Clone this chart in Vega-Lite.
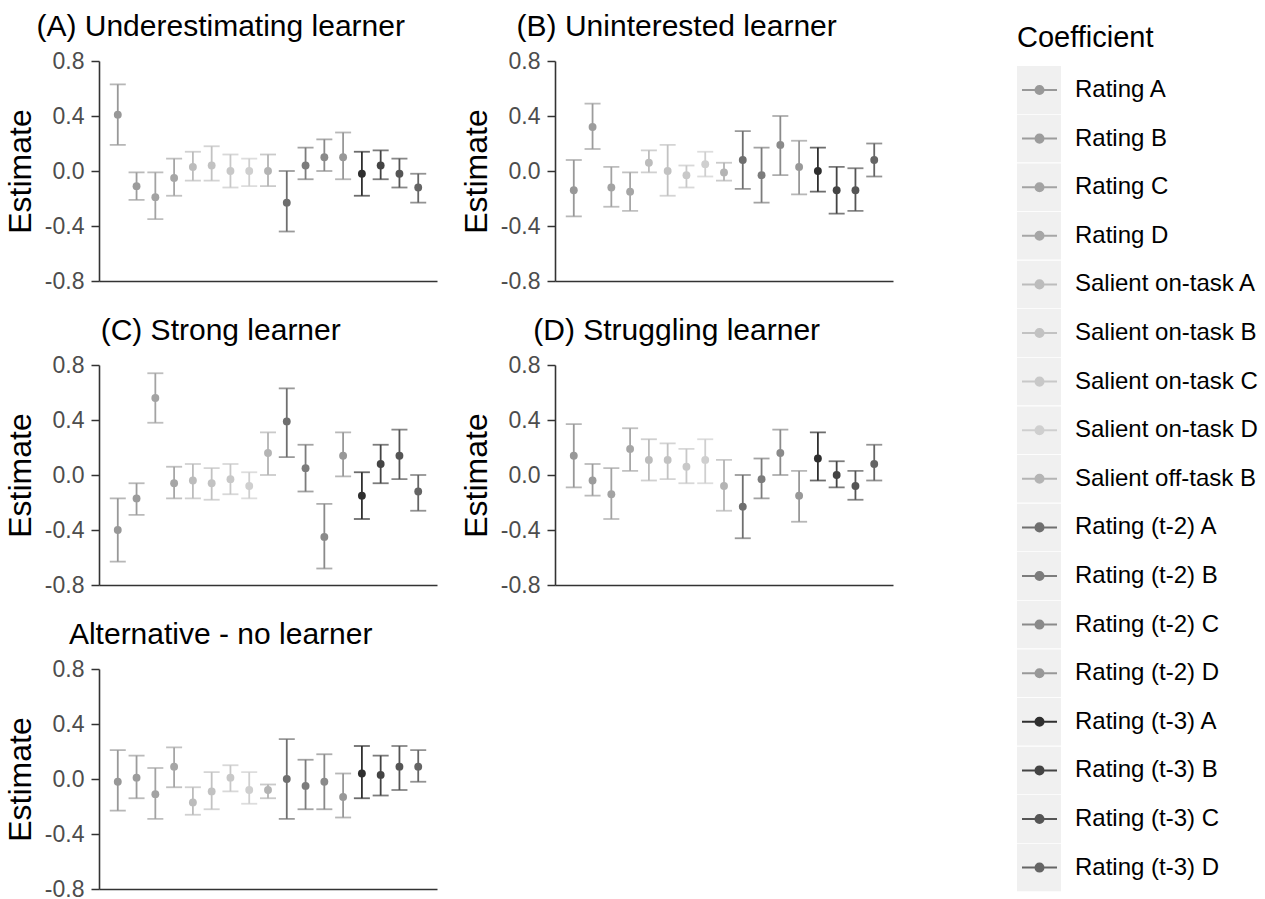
{
  "$schema": "https://vega.github.io/schema/vega-lite/v6.json",
  "padding": {"left": 4, "top": 12, "right": 5, "bottom": 2},
  "background": "#ffffff",
  "data": {"values": [
    {"panel":"A","coef":"Rating A","est":0.41,"lo":0.19,"hi":0.63},
    {"panel":"A","coef":"Rating B","est":-0.11,"lo":-0.21,"hi":-0.01},
    {"panel":"A","coef":"Rating C","est":-0.19,"lo":-0.35,"hi":-0.01},
    {"panel":"A","coef":"Rating D","est":-0.05,"lo":-0.18,"hi":0.09},
    {"panel":"A","coef":"Salient on-task A","est":0.03,"lo":-0.07,"hi":0.14},
    {"panel":"A","coef":"Salient on-task B","est":0.04,"lo":-0.07,"hi":0.18},
    {"panel":"A","coef":"Salient on-task C","est":0.0,"lo":-0.12,"hi":0.12},
    {"panel":"A","coef":"Salient on-task D","est":0.0,"lo":-0.11,"hi":0.09},
    {"panel":"A","coef":"Salient off-task B","est":0.0,"lo":-0.11,"hi":0.12},
    {"panel":"A","coef":"Rating (t-2) A","est":-0.23,"lo":-0.44,"hi":0.0},
    {"panel":"A","coef":"Rating (t-2) B","est":0.04,"lo":-0.06,"hi":0.17},
    {"panel":"A","coef":"Rating (t-2) C","est":0.10,"lo":0.0,"hi":0.23},
    {"panel":"A","coef":"Rating (t-2) D","est":0.10,"lo":-0.06,"hi":0.28},
    {"panel":"A","coef":"Rating (t-3) A","est":-0.02,"lo":-0.18,"hi":0.14},
    {"panel":"A","coef":"Rating (t-3) B","est":0.04,"lo":-0.06,"hi":0.15},
    {"panel":"A","coef":"Rating (t-3) C","est":-0.02,"lo":-0.12,"hi":0.09},
    {"panel":"A","coef":"Rating (t-3) D","est":-0.12,"lo":-0.23,"hi":-0.02},
    {"panel":"B","coef":"Rating A","est":-0.14,"lo":-0.33,"hi":0.08},
    {"panel":"B","coef":"Rating B","est":0.32,"lo":0.16,"hi":0.49},
    {"panel":"B","coef":"Rating C","est":-0.12,"lo":-0.26,"hi":0.03},
    {"panel":"B","coef":"Rating D","est":-0.15,"lo":-0.29,"hi":-0.01},
    {"panel":"B","coef":"Salient on-task A","est":0.06,"lo":-0.01,"hi":0.15},
    {"panel":"B","coef":"Salient on-task B","est":0.0,"lo":-0.18,"hi":0.19},
    {"panel":"B","coef":"Salient on-task C","est":-0.03,"lo":-0.12,"hi":0.04},
    {"panel":"B","coef":"Salient on-task D","est":0.05,"lo":-0.04,"hi":0.14},
    {"panel":"B","coef":"Salient off-task B","est":-0.01,"lo":-0.07,"hi":0.06},
    {"panel":"B","coef":"Rating (t-2) A","est":0.08,"lo":-0.13,"hi":0.29},
    {"panel":"B","coef":"Rating (t-2) B","est":-0.03,"lo":-0.23,"hi":0.17},
    {"panel":"B","coef":"Rating (t-2) C","est":0.19,"lo":-0.03,"hi":0.40},
    {"panel":"B","coef":"Rating (t-2) D","est":0.03,"lo":-0.17,"hi":0.22},
    {"panel":"B","coef":"Rating (t-3) A","est":0.0,"lo":-0.15,"hi":0.17},
    {"panel":"B","coef":"Rating (t-3) B","est":-0.14,"lo":-0.31,"hi":0.03},
    {"panel":"B","coef":"Rating (t-3) C","est":-0.14,"lo":-0.29,"hi":0.02},
    {"panel":"B","coef":"Rating (t-3) D","est":0.08,"lo":-0.04,"hi":0.20},
    {"panel":"C","coef":"Rating A","est":-0.40,"lo":-0.63,"hi":-0.17},
    {"panel":"C","coef":"Rating B","est":-0.17,"lo":-0.29,"hi":-0.06},
    {"panel":"C","coef":"Rating C","est":0.56,"lo":0.38,"hi":0.74},
    {"panel":"C","coef":"Rating D","est":-0.06,"lo":-0.17,"hi":0.06},
    {"panel":"C","coef":"Salient on-task A","est":-0.04,"lo":-0.17,"hi":0.08},
    {"panel":"C","coef":"Salient on-task B","est":-0.06,"lo":-0.18,"hi":0.05},
    {"panel":"C","coef":"Salient on-task C","est":-0.03,"lo":-0.14,"hi":0.08},
    {"panel":"C","coef":"Salient on-task D","est":-0.08,"lo":-0.17,"hi":0.02},
    {"panel":"C","coef":"Salient off-task B","est":0.16,"lo":0.0,"hi":0.31},
    {"panel":"C","coef":"Rating (t-2) A","est":0.39,"lo":0.13,"hi":0.63},
    {"panel":"C","coef":"Rating (t-2) B","est":0.05,"lo":-0.12,"hi":0.22},
    {"panel":"C","coef":"Rating (t-2) C","est":-0.45,"lo":-0.68,"hi":-0.21},
    {"panel":"C","coef":"Rating (t-2) D","est":0.14,"lo":-0.01,"hi":0.31},
    {"panel":"C","coef":"Rating (t-3) A","est":-0.15,"lo":-0.32,"hi":0.02},
    {"panel":"C","coef":"Rating (t-3) B","est":0.08,"lo":-0.06,"hi":0.22},
    {"panel":"C","coef":"Rating (t-3) C","est":0.14,"lo":-0.03,"hi":0.33},
    {"panel":"C","coef":"Rating (t-3) D","est":-0.12,"lo":-0.26,"hi":0.0},
    {"panel":"D","coef":"Rating A","est":0.14,"lo":-0.09,"hi":0.37},
    {"panel":"D","coef":"Rating B","est":-0.04,"lo":-0.15,"hi":0.08},
    {"panel":"D","coef":"Rating C","est":-0.14,"lo":-0.32,"hi":0.05},
    {"panel":"D","coef":"Rating D","est":0.19,"lo":0.03,"hi":0.34},
    {"panel":"D","coef":"Salient on-task A","est":0.11,"lo":-0.04,"hi":0.26},
    {"panel":"D","coef":"Salient on-task B","est":0.11,"lo":-0.03,"hi":0.23},
    {"panel":"D","coef":"Salient on-task C","est":0.06,"lo":-0.06,"hi":0.19},
    {"panel":"D","coef":"Salient on-task D","est":0.11,"lo":-0.06,"hi":0.26},
    {"panel":"D","coef":"Salient off-task B","est":-0.08,"lo":-0.26,"hi":0.11},
    {"panel":"D","coef":"Rating (t-2) A","est":-0.23,"lo":-0.46,"hi":0.0},
    {"panel":"D","coef":"Rating (t-2) B","est":-0.03,"lo":-0.17,"hi":0.12},
    {"panel":"D","coef":"Rating (t-2) C","est":0.16,"lo":0.0,"hi":0.33},
    {"panel":"D","coef":"Rating (t-2) D","est":-0.15,"lo":-0.34,"hi":0.03},
    {"panel":"D","coef":"Rating (t-3) A","est":0.12,"lo":-0.04,"hi":0.31},
    {"panel":"D","coef":"Rating (t-3) B","est":0.0,"lo":-0.09,"hi":0.10},
    {"panel":"D","coef":"Rating (t-3) C","est":-0.08,"lo":-0.18,"hi":0.03},
    {"panel":"D","coef":"Rating (t-3) D","est":0.08,"lo":-0.04,"hi":0.22},
    {"panel":"Alt","coef":"Rating A","est":-0.02,"lo":-0.23,"hi":0.21},
    {"panel":"Alt","coef":"Rating B","est":0.01,"lo":-0.14,"hi":0.17},
    {"panel":"Alt","coef":"Rating C","est":-0.11,"lo":-0.29,"hi":0.08},
    {"panel":"Alt","coef":"Rating D","est":0.09,"lo":-0.06,"hi":0.23},
    {"panel":"Alt","coef":"Salient on-task A","est":-0.17,"lo":-0.26,"hi":-0.06},
    {"panel":"Alt","coef":"Salient on-task B","est":-0.09,"lo":-0.22,"hi":0.05},
    {"panel":"Alt","coef":"Salient on-task C","est":0.01,"lo":-0.09,"hi":0.10},
    {"panel":"Alt","coef":"Salient on-task D","est":-0.08,"lo":-0.18,"hi":0.05},
    {"panel":"Alt","coef":"Salient off-task B","est":-0.08,"lo":-0.14,"hi":-0.04},
    {"panel":"Alt","coef":"Rating (t-2) A","est":0.0,"lo":-0.29,"hi":0.29},
    {"panel":"Alt","coef":"Rating (t-2) B","est":-0.05,"lo":-0.22,"hi":0.14},
    {"panel":"Alt","coef":"Rating (t-2) C","est":-0.02,"lo":-0.22,"hi":0.18},
    {"panel":"Alt","coef":"Rating (t-2) D","est":-0.13,"lo":-0.28,"hi":0.04},
    {"panel":"Alt","coef":"Rating (t-3) A","est":0.04,"lo":-0.14,"hi":0.24},
    {"panel":"Alt","coef":"Rating (t-3) B","est":0.03,"lo":-0.12,"hi":0.17},
    {"panel":"Alt","coef":"Rating (t-3) C","est":0.09,"lo":-0.08,"hi":0.24},
    {"panel":"Alt","coef":"Rating (t-3) D","est":0.09,"lo":-0.02,"hi":0.21}
  ]},
  "config": {
    "view": {"stroke": null},
    "font": "Liberation Sans",
    "title": {"font": "Liberation Sans", "fontSize": 30, "fontWeight": "normal", "color": "#000000", "anchor": "middle", "frame": "bounds", "offset": 8, "baseline": "alphabetic"},
    "axisY": {"labelFont": "Liberation Sans", "labelFontSize": 23, "labelColor": "#4d4d4d", "tickSize": 8, "tickColor": "#333333", "tickWidth": 1.5, "domainColor": "#333333", "domainWidth": 1.6, "gridColor": "#d3d3d3", "gridWidth": 1.5, "titleFont": "Liberation Sans", "titleFontSize": 32, "titleFontWeight": "normal", "titleColor": "#000000", "labelPadding": 7, "titlePadding": 7},
    "axisX": {"domainColor": "#333333", "domainWidth": 1.6},
    "legend": {"orient": "none", "legendX": 918, "legendY": -37, "padding": 0}
  },
  "columns": 2,
  "spacing": {"row": 23, "column": 23},
  "resolve": {"scale": {"color": "shared"}},
  "concat": [
    {"title": "(A) Underestimating learner", "transform": [{"filter": "datum.panel === 'A'"}], "width": 338, "height": 220,
     "encoding": {
       "x": {"field": "coef", "type": "nominal", "sort": ["Rating A","Rating B","Rating C","Rating D","Salient on-task A","Salient on-task B","Salient on-task C","Salient on-task D","Salient off-task B","Rating (t-2) A","Rating (t-2) B","Rating (t-2) C","Rating (t-2) D","Rating (t-3) A","Rating (t-3) B","Rating (t-3) C","Rating (t-3) D"], "scale": {"type": "point", "padding": 1.27}, "axis": {"title": null, "labels": false, "ticks": false, "grid": false}},
       "color": {"field": "coef", "type": "nominal", "scale": {"domain": ["Rating A","Rating B","Rating C","Rating D","Salient on-task A","Salient on-task B","Salient on-task C","Salient on-task D","Salient off-task B","Rating (t-2) A","Rating (t-2) B","Rating (t-2) C","Rating (t-2) D","Rating (t-3) A","Rating (t-3) B","Rating (t-3) C","Rating (t-3) D"], "range": ["#989898","#9c9c9c","#a3a3a3","#a6a6a6","#bcbcbc","#c2c2c2","#c8c8c8","#cfcfcf","#b4b4b4","#6f6f6f","#7c7c7c","#8a8a8a","#989898","#2f2f2f","#444444","#555555","#656565"]},
         "legend": {"zindex": 2, "title": "Coefficient", "titleFont": "Liberation Sans", "titleFontSize": 29, "titleFontWeight": "normal", "titleColor": "#000000", "titlePadding": 13, "labelFont": "Liberation Sans", "labelFontSize": 24, "labelColor": "#000000", "labelLimit": 400, "labelOffset": 17, "symbolType": "M-1,0H1M-0.23,0A0.23,0.23 0 1,0 0.23,0A0.23,0.23 0 1,0 -0.23,0Z", "symbolSize": 1225, "symbolStrokeWidth": 2, "symbolOffset": 4, "clipHeight": 48, "rowPadding": 0.6,
           "encode": {"symbols": {"update": {"stroke": {"scale": "color", "field": "value"}, "fill": {"scale": "color", "field": "value"}, "opacity": {"value": 1}}}}}}
     },
     "layer": [
       {"transform": [{"filter": {"field": "coef", "oneOf": ["Rating D", "Salient off-task B", "Rating (t-3) A"]}}], "mark": {"type": "rule", "strokeWidth": 3}, "encoding": {"color": {"value": "#ffffff"}, "y": {"datum": 0.81}, "y2": {"datum": -0.79}}},
       {"mark": {"type": "rule", "strokeWidth": 1.8}, "encoding": {"y": {"field": "lo", "type": "quantitative", "scale": {"domain": [-0.8, 0.8]}, "axis": {"title": "Estimate", "values": [-0.8,-0.4,0,0.4,0.8], "labelExpr": "datum.value < 0 ? '-' + format(-datum.value, '.1f') : format(datum.value, '.1f')"}}, "y2": {"field": "hi"}}},
       {"mark": {"type": "tick", "size": 16, "thickness": 1.8}, "encoding": {"y": {"field": "hi", "type": "quantitative"}}},
       {"mark": {"type": "tick", "size": 16, "thickness": 1.8}, "encoding": {"y": {"field": "lo", "type": "quantitative"}}},
       {"mark": {"type": "point", "filled": true, "size": 62, "opacity": 1}, "encoding": {"y": {"field": "est", "type": "quantitative"}}},
       {"mark": {"type": "point", "filled": true, "fillOpacity": 0, "strokeOpacity": 0}, "encoding": {"y": {"field": "est", "type": "quantitative"},
         "shape": {"field": "coef", "type": "nominal", "scale": {"range": ["M-0.917,-1H0.917V1H-0.917Z"]},
           "legend": {"zindex": 1, "legendY": 5, "values": ["Rating A","Rating B","Rating C","Rating D","Salient on-task A","Salient on-task B","Salient on-task C","Salient on-task D","Salient off-task B","Rating (t-2) A","Rating (t-2) B","Rating (t-2) C","Rating (t-2) D","Rating (t-3) A","Rating (t-3) B","Rating (t-3) C","Rating (t-3) D"], "title": null, "labelFont": "Liberation Sans", "labelFontSize": 24, "labelColor": "transparent", "labelExpr": "''", "labelOffset": 10, "symbolSize": 2304, "symbolOffset": -2, "symbolStrokeWidth": 0, "symbolOpacity": 1, "symbolFillColor": "#f0f0f0", "symbolStrokeColor": "transparent", "clipHeight": 48, "rowPadding": 0.6,
             "encode": {"symbols": {"update": {"fill": {"value": "#f0f0f0"}, "fillOpacity": {"value": 1}, "stroke": {"value": "transparent"}, "opacity": {"value": 1}}}}}}}}
     ]},
    {"title": "(B) Uninterested learner", "transform": [{"filter": "datum.panel === 'B'"}], "width": 338, "height": 220,
     "encoding": {
       "x": {"field": "coef", "type": "nominal", "sort": ["Rating A","Rating B","Rating C","Rating D","Salient on-task A","Salient on-task B","Salient on-task C","Salient on-task D","Salient off-task B","Rating (t-2) A","Rating (t-2) B","Rating (t-2) C","Rating (t-2) D","Rating (t-3) A","Rating (t-3) B","Rating (t-3) C","Rating (t-3) D"], "scale": {"type": "point", "padding": 1.27}, "axis": {"title": null, "labels": false, "ticks": false, "grid": false}},
       "color": {"field": "coef", "type": "nominal"}
     },
     "layer": [
       {"transform": [{"filter": {"field": "coef", "oneOf": ["Rating D", "Salient off-task B", "Rating (t-3) A"]}}], "mark": {"type": "rule", "strokeWidth": 3}, "encoding": {"color": {"value": "#ffffff"}, "y": {"datum": 0.81}, "y2": {"datum": -0.79}}},
       {"mark": {"type": "rule", "strokeWidth": 1.8}, "encoding": {"y": {"field": "lo", "type": "quantitative", "scale": {"domain": [-0.8, 0.8]}, "axis": {"title": "Estimate", "values": [-0.8,-0.4,0,0.4,0.8], "labelExpr": "datum.value < 0 ? '-' + format(-datum.value, '.1f') : format(datum.value, '.1f')"}}, "y2": {"field": "hi"}}},
       {"mark": {"type": "tick", "size": 16, "thickness": 1.8}, "encoding": {"y": {"field": "hi", "type": "quantitative"}}},
       {"mark": {"type": "tick", "size": 16, "thickness": 1.8}, "encoding": {"y": {"field": "lo", "type": "quantitative"}}},
       {"mark": {"type": "point", "filled": true, "size": 62, "opacity": 1}, "encoding": {"y": {"field": "est", "type": "quantitative"}}}
     ]},
    {"title": "(C) Strong learner", "transform": [{"filter": "datum.panel === 'C'"}], "width": 338, "height": 220,
     "encoding": {
       "x": {"field": "coef", "type": "nominal", "sort": ["Rating A","Rating B","Rating C","Rating D","Salient on-task A","Salient on-task B","Salient on-task C","Salient on-task D","Salient off-task B","Rating (t-2) A","Rating (t-2) B","Rating (t-2) C","Rating (t-2) D","Rating (t-3) A","Rating (t-3) B","Rating (t-3) C","Rating (t-3) D"], "scale": {"type": "point", "padding": 1.27}, "axis": {"title": null, "labels": false, "ticks": false, "grid": false}},
       "color": {"field": "coef", "type": "nominal"}
     },
     "layer": [
       {"transform": [{"filter": {"field": "coef", "oneOf": ["Rating D", "Salient off-task B", "Rating (t-3) A"]}}], "mark": {"type": "rule", "strokeWidth": 3}, "encoding": {"color": {"value": "#ffffff"}, "y": {"datum": 0.81}, "y2": {"datum": -0.79}}},
       {"mark": {"type": "rule", "strokeWidth": 1.8}, "encoding": {"y": {"field": "lo", "type": "quantitative", "scale": {"domain": [-0.8, 0.8]}, "axis": {"title": "Estimate", "values": [-0.8,-0.4,0,0.4,0.8], "labelExpr": "datum.value < 0 ? '-' + format(-datum.value, '.1f') : format(datum.value, '.1f')"}}, "y2": {"field": "hi"}}},
       {"mark": {"type": "tick", "size": 16, "thickness": 1.8}, "encoding": {"y": {"field": "hi", "type": "quantitative"}}},
       {"mark": {"type": "tick", "size": 16, "thickness": 1.8}, "encoding": {"y": {"field": "lo", "type": "quantitative"}}},
       {"mark": {"type": "point", "filled": true, "size": 62, "opacity": 1}, "encoding": {"y": {"field": "est", "type": "quantitative"}}}
     ]},
    {"title": "(D) Struggling learner", "transform": [{"filter": "datum.panel === 'D'"}], "width": 338, "height": 220,
     "encoding": {
       "x": {"field": "coef", "type": "nominal", "sort": ["Rating A","Rating B","Rating C","Rating D","Salient on-task A","Salient on-task B","Salient on-task C","Salient on-task D","Salient off-task B","Rating (t-2) A","Rating (t-2) B","Rating (t-2) C","Rating (t-2) D","Rating (t-3) A","Rating (t-3) B","Rating (t-3) C","Rating (t-3) D"], "scale": {"type": "point", "padding": 1.27}, "axis": {"title": null, "labels": false, "ticks": false, "grid": false}},
       "color": {"field": "coef", "type": "nominal"}
     },
     "layer": [
       {"transform": [{"filter": {"field": "coef", "oneOf": ["Rating D", "Salient off-task B", "Rating (t-3) A"]}}], "mark": {"type": "rule", "strokeWidth": 3}, "encoding": {"color": {"value": "#ffffff"}, "y": {"datum": 0.81}, "y2": {"datum": -0.79}}},
       {"mark": {"type": "rule", "strokeWidth": 1.8}, "encoding": {"y": {"field": "lo", "type": "quantitative", "scale": {"domain": [-0.8, 0.8]}, "axis": {"title": "Estimate", "values": [-0.8,-0.4,0,0.4,0.8], "labelExpr": "datum.value < 0 ? '-' + format(-datum.value, '.1f') : format(datum.value, '.1f')"}}, "y2": {"field": "hi"}}},
       {"mark": {"type": "tick", "size": 16, "thickness": 1.8}, "encoding": {"y": {"field": "hi", "type": "quantitative"}}},
       {"mark": {"type": "tick", "size": 16, "thickness": 1.8}, "encoding": {"y": {"field": "lo", "type": "quantitative"}}},
       {"mark": {"type": "point", "filled": true, "size": 62, "opacity": 1}, "encoding": {"y": {"field": "est", "type": "quantitative"}}}
     ]},
    {"title": "Alternative - no learner", "transform": [{"filter": "datum.panel === 'Alt'"}], "width": 338, "height": 220,
     "encoding": {
       "x": {"field": "coef", "type": "nominal", "sort": ["Rating A","Rating B","Rating C","Rating D","Salient on-task A","Salient on-task B","Salient on-task C","Salient on-task D","Salient off-task B","Rating (t-2) A","Rating (t-2) B","Rating (t-2) C","Rating (t-2) D","Rating (t-3) A","Rating (t-3) B","Rating (t-3) C","Rating (t-3) D"], "scale": {"type": "point", "padding": 1.27}, "axis": {"title": null, "labels": false, "ticks": false, "grid": false}},
       "color": {"field": "coef", "type": "nominal"}
     },
     "layer": [
       {"transform": [{"filter": {"field": "coef", "oneOf": ["Rating D", "Salient off-task B", "Rating (t-3) A"]}}], "mark": {"type": "rule", "strokeWidth": 3}, "encoding": {"color": {"value": "#ffffff"}, "y": {"datum": 0.81}, "y2": {"datum": -0.79}}},
       {"mark": {"type": "rule", "strokeWidth": 1.8}, "encoding": {"y": {"field": "lo", "type": "quantitative", "scale": {"domain": [-0.8, 0.8]}, "axis": {"title": "Estimate", "values": [-0.8,-0.4,0,0.4,0.8], "labelExpr": "datum.value < 0 ? '-' + format(-datum.value, '.1f') : format(datum.value, '.1f')"}}, "y2": {"field": "hi"}}},
       {"mark": {"type": "tick", "size": 16, "thickness": 1.8}, "encoding": {"y": {"field": "hi", "type": "quantitative"}}},
       {"mark": {"type": "tick", "size": 16, "thickness": 1.8}, "encoding": {"y": {"field": "lo", "type": "quantitative"}}},
       {"mark": {"type": "point", "filled": true, "size": 62, "opacity": 1}, "encoding": {"y": {"field": "est", "type": "quantitative"}}}
     ]}
  ]
}
